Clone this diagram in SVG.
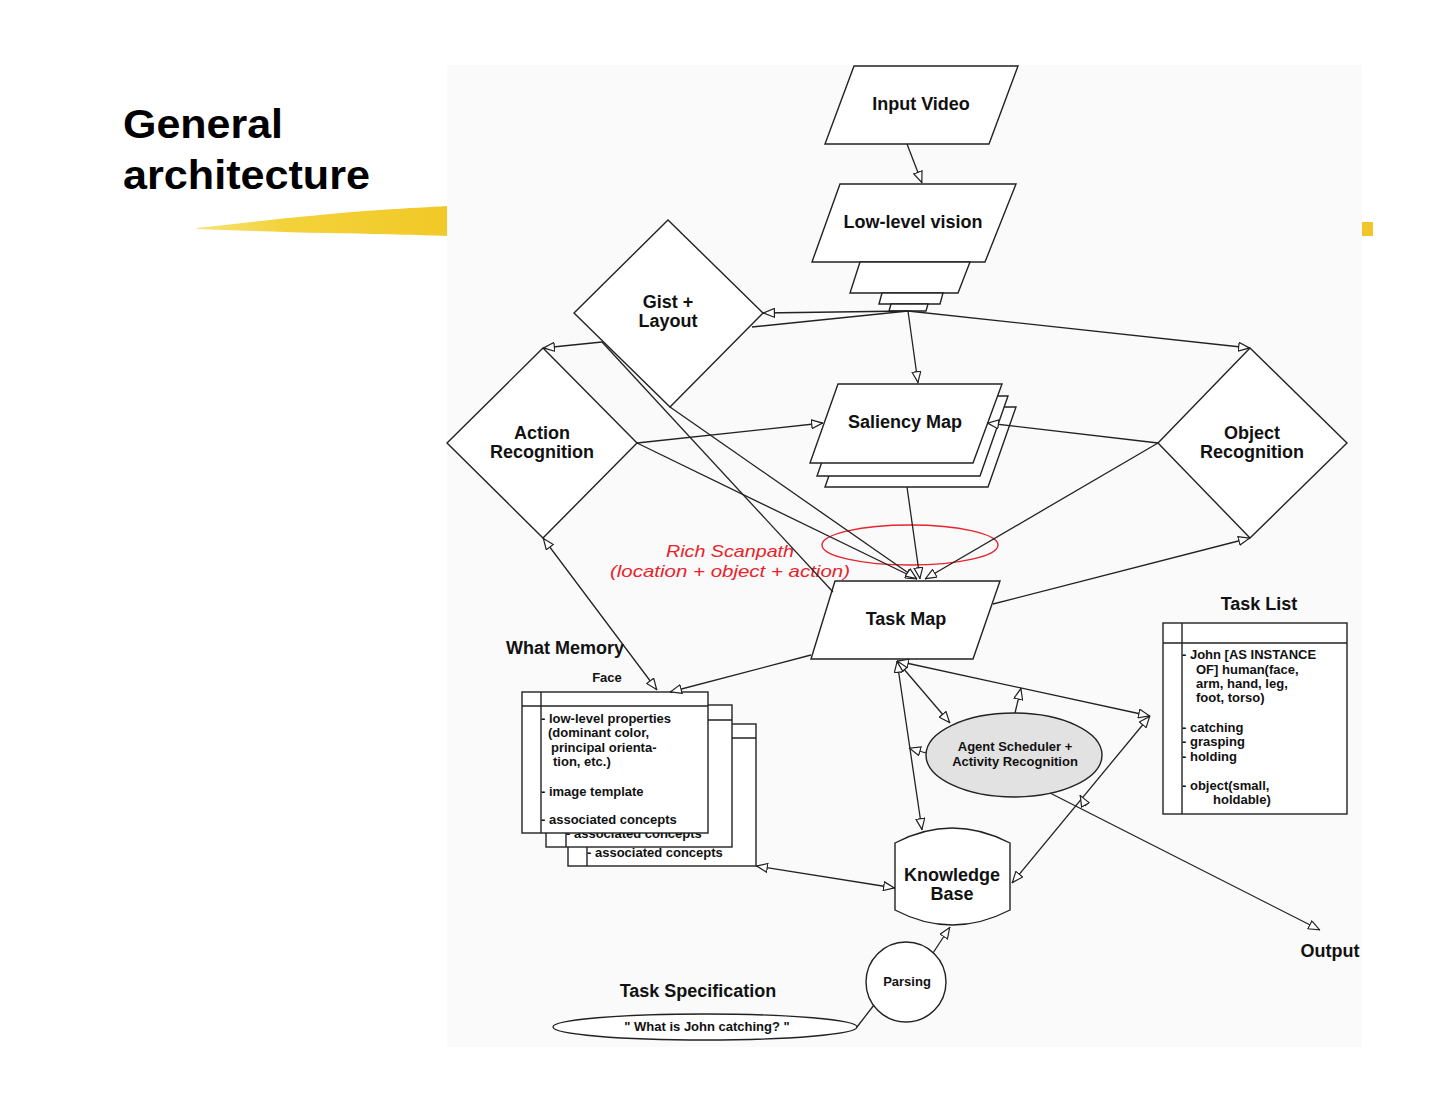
<svg xmlns="http://www.w3.org/2000/svg" width="1440" height="1113" viewBox="0 0 1440 1113">
<defs>
<marker id="ah" viewBox="0 0 12 10" refX="12" refY="5" markerWidth="12" markerHeight="10" markerUnits="userSpaceOnUse" orient="auto-start-reverse">
<path d="M0.6,0.6 L11.4,5 L0.6,9.4 Z" fill="#fff" stroke="#222" stroke-width="1.2"/>
</marker>
<linearGradient id="brush" x1="0" y1="0" x2="1" y2="0">
<stop offset="0" stop-color="#f7e27a"/>
<stop offset="0.35" stop-color="#f3d23a"/>
<stop offset="1" stop-color="#f1c928"/>
</linearGradient>
</defs>
<style>
.shape{fill:#fff;stroke:#222;stroke-width:1.4}
.conn line,.conn path{stroke:#222;stroke-width:1.3;fill:none}
.lbl{font-family:"Liberation Sans",Arial,sans-serif;font-weight:bold;font-size:18px;fill:#111;text-anchor:middle}
.sm{font-family:"Liberation Sans",Arial,sans-serif;font-weight:bold;font-size:13px;fill:#111}
.title{font-family:"Liberation Sans",Arial,sans-serif;font-weight:bold;font-size:40px;fill:#000}
.red{font-family:"Liberation Sans",Arial,sans-serif;font-style:italic;font-size:17px;fill:#e8232b;text-anchor:middle}
</style>
<rect width="1440" height="1113" fill="#fff"/>
<!-- title -->
<g id="title">
<text class="title" x="123" y="138" textLength="160" lengthAdjust="spacingAndGlyphs">General</text>
<text class="title" x="123" y="189" textLength="247" lengthAdjust="spacingAndGlyphs">architecture</text>
<path d="M197,228 C250,222 320,214 380,210 C410,208 430,207 447,206 L447,236 C420,235 380,234 330,233 C280,232 230,230 197,229 Z" fill="url(#brush)"/>
<rect x="1362" y="222" width="11" height="14" fill="#f2c52c"/>
</g>
<!-- diagram background -->
<rect x="447" y="65" width="915" height="982" fill="#fafafa"/>
<!-- nodes -->
<g id="input-video">
<polygon class="shape" points="854,66 1018,66 989,144 825,144"/>
<text class="lbl" x="921" y="110">Input Video</text>
</g>
<g id="low-level-vision">
<polygon class="shape" points="840,184 1016,184 985,262 812,262"/>
<polygon class="shape" points="860,262 970,262 958,293 850,293"/>
<polygon class="shape" points="882,293 943,293 940,304 879,304"/>
<polygon class="shape" points="891,304 928,304 926,311 889,311"/>
<text class="lbl" x="913" y="228">Low-level vision</text>
</g>
<g id="gist-layout">
<polygon class="shape" points="668,220 763,313 670,407 574,313"/>
<text class="lbl" x="668" y="308">Gist +</text>
<text class="lbl" x="668" y="327">Layout</text>
</g>
<g id="action-recognition">
<polygon class="shape" points="543,348 637,443 543,538 447,443"/>
<text class="lbl" x="542" y="439">Action</text>
<text class="lbl" x="542" y="458">Recognition</text>
</g>
<g id="object-recognition">
<polygon class="shape" points="1250,348 1347,443 1250,538 1158,443"/>
<text class="lbl" x="1252" y="439">Object</text>
<text class="lbl" x="1252" y="458">Recognition</text>
</g>
<g id="saliency-map">
<polygon class="shape" points="853,407 1016,407 988,487 825,487"/>
<polygon class="shape" points="845,396 1008,396 980,476 817,476"/>
<polygon class="shape" points="838,384 1002,384 973,463 810,463"/>
<text class="lbl" x="905" y="428">Saliency Map</text>
</g>
<g id="rich-scanpath">
<ellipse cx="910" cy="545" rx="88" ry="20" fill="none" stroke="#e8232b" stroke-width="1.4"/>
<text class="red" x="730" y="557" textLength="128" lengthAdjust="spacingAndGlyphs">Rich Scanpath</text>
<text class="red" x="730" y="577" textLength="240" lengthAdjust="spacingAndGlyphs">(location + object + action)</text>
</g>
<g id="task-map">
<polygon class="shape" points="835,581 1000,581 973,659 811,659"/>
<text class="lbl" x="906" y="625">Task Map</text>
</g>
<g id="what-memory">
<text class="lbl" x="565" y="654">What Memory</text>
<text class="sm" x="607" y="682" text-anchor="middle">Face</text>
<rect class="shape" x="568" y="724" width="188" height="142"/>
<line x1="568" y1="738" x2="756" y2="738" stroke="#222" stroke-width="1.4"/>
<line x1="587" y1="724" x2="587" y2="866" stroke="#222" stroke-width="1.4"/>
<text class="sm" x="587" y="857">- associated concepts</text>
<rect class="shape" x="546" y="705" width="186" height="142"/>
<line x1="546" y1="720" x2="732" y2="720" stroke="#222" stroke-width="1.4"/>
<line x1="566" y1="705" x2="566" y2="847" stroke="#222" stroke-width="1.4"/>
<text class="sm" x="566" y="838">- associated concepts</text>
<rect class="shape" x="522" y="692" width="186" height="141"/>
<line x1="522" y1="706" x2="708" y2="706" stroke="#222" stroke-width="1.4"/>
<line x1="541" y1="692" x2="541" y2="833" stroke="#222" stroke-width="1.4"/>
<text class="sm" x="541" y="723">- low-level properties</text>
<text class="sm" x="548" y="737">(dominant color,</text>
<text class="sm" x="551" y="752">principal orienta-</text>
<text class="sm" x="553" y="766">tion, etc.)</text>
<text class="sm" x="541" y="796">- image template</text>
<text class="sm" x="541" y="824">- associated concepts</text>
</g>
<g id="task-list">
<text class="lbl" x="1259" y="610">Task List</text>
<rect class="shape" x="1163" y="623" width="184" height="191"/>
<line x1="1163" y1="643" x2="1347" y2="643" stroke="#222" stroke-width="1.4"/>
<line x1="1182" y1="623" x2="1182" y2="814" stroke="#222" stroke-width="1.4"/>
<text class="sm" x="1182" y="659">- John [AS INSTANCE</text>
<text class="sm" x="1196" y="674">OF] human(face,</text>
<text class="sm" x="1196" y="688">arm, hand, leg,</text>
<text class="sm" x="1196" y="702">foot, torso)</text>
<text class="sm" x="1182" y="732">- catching</text>
<text class="sm" x="1182" y="746">- grasping</text>
<text class="sm" x="1182" y="761">- holding</text>
<text class="sm" x="1182" y="790">- object(small,</text>
<text class="sm" x="1213" y="804">holdable)</text>
</g>
<g id="agent-scheduler">
<ellipse cx="1014" cy="755" rx="88" ry="42" fill="#e2e2e2" stroke="#222" stroke-width="1.4"/>
<text class="sm" x="1015" y="751" text-anchor="middle" font-size="14">Agent Scheduler +</text>
<text class="sm" x="1015" y="766" text-anchor="middle" font-size="14">Activity Recognition</text>
</g>
<g id="knowledge-base">
<path class="shape" d="M895,843 Q952,813 1010,843 L1010,910 Q952,940 895,910 Z"/>
<text class="lbl" x="952" y="881">Knowledge</text>
<text class="lbl" x="952" y="900">Base</text>
</g>
<g id="output">
<text class="lbl" x="1330" y="957">Output</text>
</g>
<g id="parsing">
<circle class="shape" cx="906" cy="982" r="40"/>
<text class="sm" x="907" y="986" text-anchor="middle">Parsing</text>
</g>
<g id="task-specification">
<text class="lbl" x="698" y="997">Task Specification</text>
<ellipse class="shape" cx="705" cy="1027" rx="152" ry="13"/>
<text class="sm" x="707" y="1031" text-anchor="middle" font-size="12.5">" What is John catching? "</text>
</g>
<!-- connectors -->
<g id="connectors" class="conn">
<line x1="907" y1="144" x2="922" y2="183" marker-end="url(#ah)"/>
<line x1="908" y1="311" x2="763" y2="313" marker-end="url(#ah)"/>
<line x1="908" y1="311" x2="752" y2="327"/>
<line x1="602" y1="342" x2="543" y2="348" marker-end="url(#ah)"/>
<line x1="908" y1="311" x2="1250" y2="348" marker-end="url(#ah)"/>
<line x1="908" y1="311" x2="918" y2="383" marker-end="url(#ah)"/>
<line x1="637" y1="443" x2="823" y2="423" marker-end="url(#ah)"/>
<line x1="1158" y1="443" x2="987" y2="423" marker-end="url(#ah)"/>
<line x1="637" y1="443" x2="917" y2="579" marker-end="url(#ah)"/>
<line x1="670" y1="407" x2="917" y2="579" marker-end="url(#ah)"/>
<line x1="907" y1="487" x2="920" y2="579" marker-end="url(#ah)"/>
<line x1="1158" y1="443" x2="925" y2="579" marker-end="url(#ah)"/>
<line x1="602" y1="342" x2="833" y2="592"/>
<line x1="993" y1="604" x2="1250" y2="538" marker-end="url(#ah)"/>
<line x1="543" y1="538" x2="657" y2="690" marker-start="url(#ah)" marker-end="url(#ah)"/>
<line x1="811" y1="655" x2="670" y2="692" marker-end="url(#ah)"/>
<line x1="897" y1="661" x2="950" y2="723" marker-start="url(#ah)" marker-end="url(#ah)"/>
<line x1="897" y1="661" x2="922" y2="830" marker-start="url(#ah)" marker-end="url(#ah)"/>
<line x1="897" y1="661" x2="1150" y2="716" marker-start="url(#ah)" marker-end="url(#ah)"/>
<line x1="1015" y1="713" x2="1021" y2="688" marker-end="url(#ah)"/>
<line x1="926" y1="753" x2="909" y2="748" marker-end="url(#ah)"/>
<line x1="1150" y1="716" x2="1012" y2="883" marker-start="url(#ah)" marker-end="url(#ah)"/>
<line x1="1086" y1="806" x2="1080" y2="795" marker-end="url(#ah)"/>
<line x1="1050" y1="793" x2="1320" y2="930" marker-end="url(#ah)"/>
<line x1="756" y1="866" x2="895" y2="888" marker-start="url(#ah)" marker-end="url(#ah)"/>
<line x1="933" y1="953" x2="950" y2="927" marker-end="url(#ah)"/>
<line x1="857" y1="1027" x2="874" y2="1005"/>
</g>
</svg>
